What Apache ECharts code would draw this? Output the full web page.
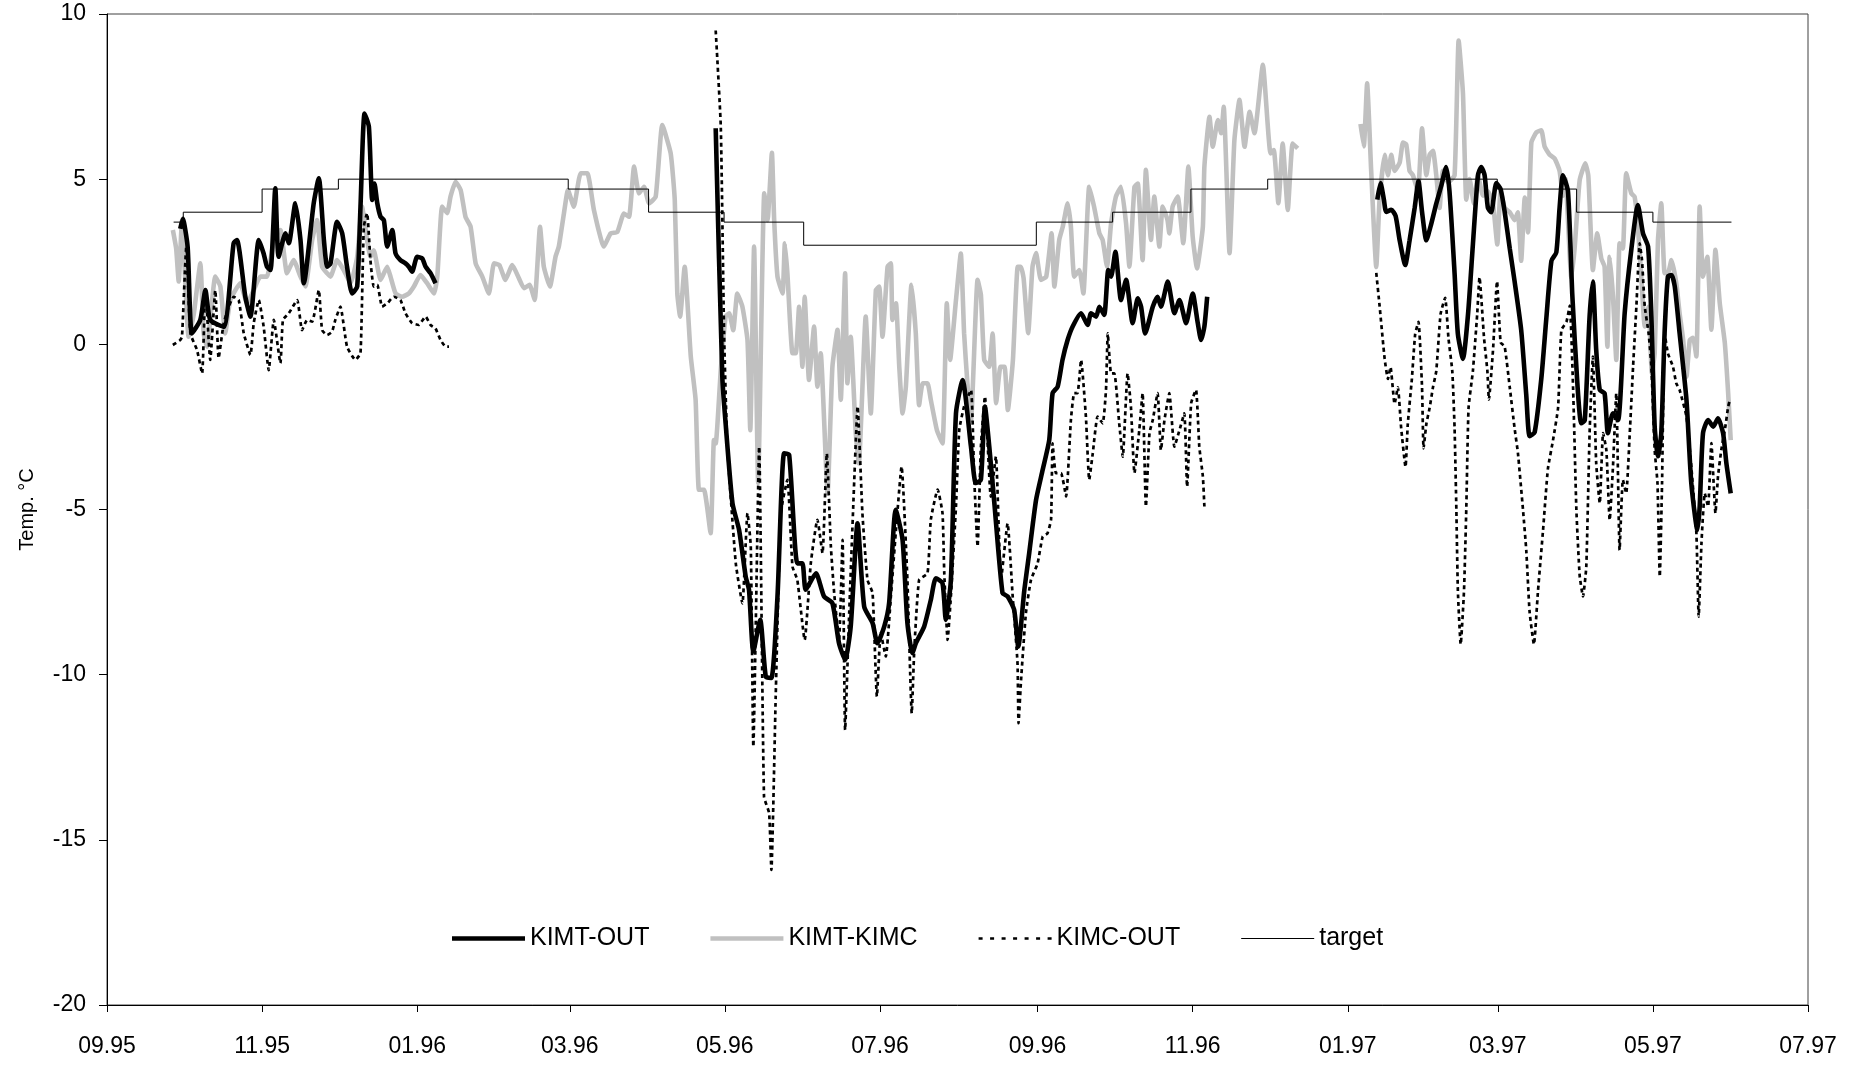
<!DOCTYPE html>
<html><head><meta charset="utf-8">
<script src="https://cdn.jsdelivr.net/npm/echarts@6/dist/echarts.min.js"></script>
<style>html,body{margin:0;padding:0;background:#fff}#c{width:1861px;height:1065px}</style>
</head><body><div id="c"></div>
<script>
// x values are days since 1 Sep 1995
const xTickDays = [0, 61, 122, 182, 243, 304, 366, 427, 488, 547, 608, 669];
const xTickLabels = ['09.95','11.95','01.96','03.96','05.96','07.96','09.96','11.96','01.97','03.97','05.97','07.97'];
const legendNames = ['KIMT-OUT', 'KIMT-KIMC', 'KIMC-OUT', 'target'];

const kimtOut = [
[28.8,3.5],[29.8,3.8],[31.7,2.96],[33.4,0.33],[36.7,0.74],[38.7,1.64],[40.6,0.74],[45.9,0.53],[49.8,3.06],[51.1,3.16],
[54.4,1.44],[56.4,0.84],[59.7,3.16],[61.6,2.75],[62.9,2.35],[64.3,2.25],[66.2,4.72],[67.5,2.65],[70.2,3.36],[71.5,3.06],
[74.1,4.27],[76.1,3.16],[77.4,1.85],[81.3,4.27],[83.3,5.03],[85.3,3.16],[86.6,2.35],[87.9,2.45],[90.5,3.71],[92.5,3.36],
[94.4,2.35],[96.4,1.54],[98.4,1.75],[99.7,4.17],[101.3,6.99],[103,6.59],[104.3,4.37],[105.2,4.87],[106.3,4.27],[107.6,3.86],
[108.9,3.76],[110.2,2.96],[112.2,3.46],[113.5,2.75],[115.4,2.55],[117.4,2.45],[118.7,2.35],[120,2.2],[122,2.65],[124,2.6],
[125.3,2.35],[127.3,2.15],[129.2,1.85],
[184,null],
[239.4,6.54],[242.0,-0.98],[243.3,-2.39],[246.0,-4.81],[248.6,-5.62],[251.2,-7.03],[252.5,-7.43],[254.2,-9.3],[256.9,-8.34],[259.1,-10.06],
[261.3,-10.1],[263.7,-7.63],[266.3,-3.3],[268.3,-3.35],[271.5,-6.63],[273.5,-6.63],[274.8,-7.43],[278.8,-6.93],[282.0,-7.63],[285.3,-7.84],
[287.9,-9.05],[290.3,-9.55],[292.5,-8.54],[295.2,-5.42],[297.8,-7.94],[301.1,-8.44],[303.0,-9.05],[305.7,-8.54],[307.6,-7.84],[310.2,-5.01],
[312.9,-5.92],[314.8,-8.44],[316.8,-9.35],[318.1,-9.05],[321.4,-8.54],[324.0,-7.74],[326.0,-7.08],[328.6,-7.23],[329.9,-8.34],[331.9,-7.13],
[333.9,-2.09],[336.5,-1.08],[339.8,-3.1],[341.7,-4.2],[343.7,-4.1],[345.3,-1.88],[347.0,-3.1],[349.0,-4.81],[352.2,-7.53],[354.2,-7.63],
[356.8,-8.04],[358.4,-9.15],[360.8,-7.43],[362.7,-6.32],[365.4,-4.71],[368.0,-3.8],[370.6,-2.89],[371.9,-1.48],[373.9,-1.28],[375.8,-0.47],
[377.8,0.13],[379.8,0.54],[383.1,0.94],[385.7,0.59],[387.0,0.94],[389.0,0.84],[390.3,1.14],[392.2,0.89],[393.8,2.25],[394.9,2.05],
[396.6,2.8],[398.8,1.34],[400.8,1.95],[403.4,0.64],[405.4,1.39],[406.7,1.14],[408.3,0.33],[411.3,1.14],[413.2,1.44],[414.5,1.14],
[417.2,1.9],[419.8,0.94],[421.8,1.34],[424.4,0.64],[427.0,1.54],[429.0,0.64],[430.3,0.13],[431.6,0.54],[432.7,1.44],
[466,null],
[499.6,4.38],[500.9,4.88],[502.2,4.38],[503.1,4.01],[505.1,4.07],[506.8,3.89],[508.4,3.15],[510.6,2.4],[512.3,3.15],[514.3,4.13],
[515.8,4.94],[517.2,4.01],[518.9,3.15],[520.8,3.64],[522.8,4.26],[524.8,4.81],[526.7,5.37],[528.0,4.63],[530.0,2.15],[531.3,0.31],
[533.3,-0.44],[535.3,0.92],[537.2,3.02],[539.2,5.12],[540.5,5.37],[541.8,5.12],[543.1,4.13],[544.4,4.0],[546.4,4.88],[548.1,4.7],
[549.7,4.01],[551.7,2.9],[553.6,1.91],[556.2,0.43],[558.2,-1.54],[559.5,-2.78],[561.5,-2.66],[564.1,-1.05],[566.1,0.8],[568.1,2.53],
[570.0,2.78],[571.3,4.13],[572.6,5.12],[574.6,4.63],[576.3,1.5],[578.3,-1.2],[579.8,-2.39],[581.2,-2.3],[583.1,0.84],[584.4,1.9],
[585.7,-0.17],[587.1,-1.38],[589.0,-1.48],[590.3,-2.69],[592.3,-2.09],[594.3,-2.29],[596.9,0.94],[599.5,2.86],[602.1,4.22],[604.1,3.36],
[606.1,2.96],[607.4,0.84],[608.7,-2.49],[610.0,-3.39],[611.3,-2.69],[612.6,0.34],[613.9,2.05],[615.3,2.1],[616.6,1.75],[618.5,0.34],
[621.2,-1.68],[623.1,-4.2],[625.5,-5.62],[626.4,-4.91],[627.7,-2.69],[629.7,-2.29],[631.7,-2.49],[633.6,-2.24],[635.6,-2.69],[636.9,-3.6],
[638.6,-4.51]
];

const kimtKimc = [
[25.9,3.46],[27.2,2.9],[28.2,1.9],[29.5,3.76],[30.8,1.9],[32.1,0.23],[34.1,0.9],[36.7,2.45],[38,0.33],[39.3,-0.07],
[42.6,2.05],[44.6,1.75],[46.5,0.33],[48.5,1.34],[52.4,1.85],[55.1,1.24],[57.7,1.64],[60.3,2.05],[62.9,2.05],[64.3,2.55],
[66.2,3.36],[68.2,3.46],[70.8,2.15],[73.4,2.55],[76.1,2.05],[78,1.75],[80.7,3.16],[82.6,3.76],[84.6,2.35],[86.6,2.15],
[87.9,2.05],[90.5,2.55],[93.1,2.25],[95.8,1.85],[98.4,2.65],[100.3,4.17],[102.3,3.16],[103.6,2.65],[104.9,2.85],[107.6,1.95],
[110.2,2.35],[111.5,2.05],[113.5,1.54],[116.1,1.44],[118.7,1.54],[120.7,1.75],[123.3,2.1],[125.9,1.85],[128.6,1.54],[129.9,2.05],
[131.8,4.17],[133.8,3.97],[135.1,4.47],[137.1,4.92],[139.1,4.67],[141,3.86],[143,3.56],[145,2.45],[147.6,2.05],[150.2,1.54],
[152.2,2.45],[154.3,2.4],[156.7,1.95],[159.4,2.4],[162,2.0],[164,1.7],[166.2,1.8],[168.2,1.34],[170.3,3.56],[171.8,2.35],
[174.2,1.75],[176.4,2.65],[177.7,2.96],[179.7,3.96],[181.3,4.67],[183.6,4.17],[186.3,5.18],[188.9,5.18],[191.5,4.07],[195.4,2.96],
[198.1,3.36],[200.7,3.4],[203.3,3.96],[205.3,3.86],[207.3,5.38],[209.2,4.57],[211.2,4.77],[213.2,4.27],[215.8,4.47],[218.4,6.64],
[221.7,5.78],[223.3,4.37],[224.3,1.54],[225.4,0.84],[227.2,2.35],[229.6,-0.37],[231.5,-1.68],[232.8,-4.4],[234.8,-4.4],[237.4,-5.72],
[238.7,-2.9],[239.4,-3.0],[241.4,-0.78],[243.3,0.84],[244.7,0.94],[246.3,0.43],[247.9,1.54],[249.9,1.14],[251.9,0.13],[253,-2.6],
[254.5,2.96],[256.1,-4.2],[258.5,4.57],[259.8,3.76],[261.5,5.8],[262.4,3.76],[263.7,2.05],[265.7,1.54],[266.6,3.06],[267.6,2.15],
[269.6,-0.27],[270.9,-0.27],[272.2,1.14],[273.5,-0.68],[274.4,1.44],[276.1,-1.08],[278.1,0.54],[279.4,-1.28],[280.7,-0.27],[283.4,-4.51],
[285.3,-0.68],[287.3,0.44],[288.6,-1.68],[290.3,2.15],[291.2,-1.18],[292.5,0.23],[294.5,-2.7],[295.7,-3.6],[298.4,0.84],[300.4,-2.09],
[302.4,1.64],[303.7,1.75],[305,0.23],[307,2.35],[308.3,2.45],[308.9,0.74],[310.3,1.24],[311.6,-0.68],[312.9,-2.09],[314.2,-1.28],
[316.4,1.8],[318.1,0.33],[319.4,-1.84],[320.8,-1.18],[322.7,-1.18],[324,-1.68],[326.4,-2.6],[328.6,-3.0],[330.3,1.24],[331.6,-0.47],
[333.9,1.34],[335.8,2.75],[337.1,0.33],[338.4,-1.18],[339.8,-2.3],[342.4,1.95],[343.7,1.5],[345,-0.47],[347,-0.68],[348.3,0.33],
[349.7,-1.78],[351.4,-0.68],[353,-0.68],[354.3,-1.99],[356.3,-0.47],[358.2,2.35],[359.4,2.35],[360.5,2.0],[362.3,0.34],[364,2.35],
[365.4,2.76],[367.3,1.95],[369.4,2.05],[371.5,3.36],[372.6,1.75],[374.5,3.16],[375.9,3.56],[377.8,4.27],[379.1,3.56],[380.4,2.05],
[382.4,2.25],[384,1.54],[386.3,4.77],[388.2,4.17],[390.3,3.36],[391.6,3.16],[393.3,2.35],[394.9,3.66],[396.8,4.47],[398.8,4.77],
[400.8,3.66],[402.1,2.35],[404.1,4.77],[405.4,4.87],[407.3,2.55],[408.6,5.28],[410.6,3.16],[411.9,4.47],[413.9,2.96],[415.2,4.17],
[417.1,3.76],[417.8,3.36],[419.1,4.17],[421.1,4.47],[423.3,3.06],[425.3,5.38],[427,3.26],[428.7,2.3],[431,3.56],[431.6,5.38],
[433.6,6.89],[434.9,5.98],[436.9,6.79],[438.2,6.39],[439.2,7.19],[441.5,2.76],[443.4,6.18],[445.4,7.4],[447.4,5.98],[449.4,7.04],
[451.3,6.39],[454.6,8.46],[457.6,5.78],[458.9,5.88],[460.7,4.27],[462.4,6.08],[464.4,4.07],[466.3,6.08],[468.3,5.93],
[480,null],
[493.0,6.67],[494.3,5.99],[495.6,7.9],[497.2,5.25],[499.2,2.34],[500.5,4.38],[502.5,5.74],[503.8,5.12],[505.1,5.74],[506.4,5.25],
[508.4,5.5],[509.7,6.11],[511,6.05],[512.3,5.25],[513.6,5.12],[515.6,4.63],[517.2,6.54],[518.9,5.12],[520.2,5.74],[521.5,5.86],
[522.8,5.12],[524.1,4.13],[525.4,5.25],[527.4,4.9],[530,5.12],[531.6,9.2],[533.3,7.59],[534.6,4.38],[535.9,5.0],[537.6,4.26],
[539.2,5.12],[541.2,4.5],[543.1,4.63],[545.1,4.26],[546.8,3.02],[548.1,4.63],[549.7,4.13],[551.7,4.0],[553.6,3.76],[554.9,4.0],
[556.2,2.53],[557.6,4.44],[558.9,3.39],[560.2,6.11],[562.2,6.42],[564.1,6.48],[565.4,5.99],[567.4,5.74],[569.4,5.62],[571.3,5.25],
[572.6,4.5],[573.6,5.0],[575.9,2.03],[577.2,2.9],[579.2,4.97],[581.4,5.48],[582.6,5.1],[584.4,2.25],[586.1,3.36],[587.7,2.6],
[589,2.35],[590.1,-0.07],[591,2.65],[592.3,1.44],[593.6,-0.47],[594.9,3.06],[596.2,2.9],[597.5,5.18],[599.5,4.57],[600.8,4.47],
[602.1,3.56],[603.5,1.95],[604.8,0.54],[606.3,1.14],[607.6,-0.88],[608.7,-0.27],[610,3.16],[611.3,4.27],[612.6,2.15],[613.9,2.15],
[615.3,2.55],[617.2,1.85],[618.5,0.94],[619.9,0.13],[621.2,-0.98],[622.5,0.13],[623.8,0.2],[625.1,-0.37],[626.4,4.17],[627.7,2.05],
[629.4,2.65],[631,0.44],[632.6,2.86],[634.3,1.24],[636.3,0.03],[637.6,-1.48],[638.6,-2.9]
];

const kimcOut = [
[25.9,-0.02],[28.8,0.13],[29.5,0.23],[31.2,2.96],[32.8,0.33],[35.4,-0.17],[37.4,-0.88],[38.7,1.64],[40.6,-0.47],[42.6,1.64],
[43.9,-0.42],[45.9,0.64],[47.9,1.14],[49.8,1.44],[51.8,1.34],[53.8,0.33],[56.4,-0.32],[57.7,0.64],[59.7,1.34],[61.6,0.54],
[63.6,-0.78],[65.6,0.74],[68.2,-0.57],[69.2,0.74],[71.5,0.94],[74.8,1.34],[76.7,0.43],[78.7,0.74],[80.7,0.69],[83.3,1.64],
[84.6,0.43],[86.6,0.28],[88.5,0.38],[89.8,0.74],[91.8,1.14],[94.4,-0.07],[97.7,-0.47],[99.7,-0.27],[101,3.56],[102.3,3.97],
[103.6,2.55],[104.9,1.75],[106.3,1.8],[108.2,1.14],[110.2,1.24],[112.8,1.44],[115.4,1.34],[117.4,0.94],[120,0.64],[122.6,0.59],
[125.3,0.84],[127.3,0.58],[129.2,0.48],[131.2,0.13],[133.2,-0.07],[134.5,-0.07],
[185,null],
[239.4,9.5],[241.4,6.59],[242.7,0.33],[244.0,-3.1],[247.3,-6.63],[249.9,-7.84],[251.9,-5.11],[253.2,-6.12],[254.2,-12.18],[256.5,-3.1],
[258.4,-13.69],[260.4,-14.19],[261.3,-15.91],[263.0,-10.66],[265.0,-5.11],[267.6,-4.1],[269.6,-6.73],[271.5,-7.13],[274.4,-8.95],[276.8,-6.63],
[279.4,-5.31],[281.4,-6.32],[283.1,-3.3],[284.7,-6.12],[286.0,-7.53],[287.9,-8.95],[289.3,-5.92],[290.3,-11.67],[291.9,-8.14],[293.9,-4.1],
[295.2,-1.88],[297.1,-5.11],[299.1,-7.13],[301.1,-7.53],[302.8,-10.66],[304.3,-8.74],[306.3,-9.45],[308.3,-7.63],[310.2,-5.72],[312.5,-3.7],
[314.8,-7.13],[316.5,-11.17],[317.5,-9.25],[319.4,-7.13],[322.7,-6.93],[324.0,-5.31],[326.7,-4.4],[328.6,-5.11],[329.3,-6.93],[330.6,-8.95],
[331.9,-7.63],[333.9,-4.91],[335.2,-2.59],[337.1,-1.88],[339.8,-1.38],[341.1,-4.1],[342.4,-6.12],[343.7,-3.1],[345.3,-1.58],[347.6,-4.61],
[349.6,-3.4],[351.6,-7.13],[354.2,-5.42],[356.2,-7.63],[358.1,-9.65],[358.5,-11.47],[359.5,-10.16],[361.4,-8.14],[363.4,-7.13],[366.0,-6.63],
[368.0,-5.82],[369.9,-5.72],[371.3,-5.3],[371.9,-3.0],[373.2,-3.9],[375.2,-3.9],[377.2,-4.6],[379.1,-2.29],[380.4,-1.48],[381.7,-1.48],
[383.1,-0.47],[385.0,-2.19],[386.3,-4.1],[387.7,-3.3],[389.6,-2.19],[391.6,-2.39],[392.9,-1.38],[393.6,0.33],[394.9,-0.88],[396.2,-0.88],
[398.1,-2.39],[399.5,-3.4],[401.4,-0.88],[402.7,-1.88],[404.1,-3.9],[406.0,-2.59],[407.3,-1.48],[408.6,-4.91],[410.0,-2.69],[411.3,-2.29],
[413.2,-1.48],[414.5,-3.2],[415.9,-2.29],[417.8,-1.48],[419.8,-3.1],[421.8,-2.6],[423.7,-2.09],[424.8,-4.31],[426.4,-1.78],[428.3,-1.38],
[429.6,-3.1],[431.0,-4.0],[431.6,-4.91],
[465,null],
[499.2,2.16],[500.5,1.17],[502.5,-0.44],[503.8,-1.05],[504.8,-0.69],[506.4,-1.8],[507.7,-1.3],[509.0,-2.54],[510.7,-3.71],[511.6,-2.41],
[513.2,-1.05],[514.5,0.31],[515.8,0.68],[517.2,-1.3],[517.8,-3.15],[518.9,-2.41],[520.2,-1.92],[521.5,-1.3],[522.8,-0.81],[524.5,0.92],
[526.3,1.41],[527.6,0.18],[529.1,-0.81],[530.0,-2.54],[530.7,-5.0],[531.3,-7.47],[532.4,-9.08],[533.7,-7.47],[534.6,-5.0],[535.5,-1.92],
[537.2,-0.81],[538.9,0.92],[539.8,2.03],[541.6,0.18],[542.9,-0.81],[543.5,-1.67],[545.1,-0.19],[546.7,1.91],[548.1,0.06],[549.7,-0.07],
[551.7,-1.3],[553.6,-2.54],[554.9,-3.28],[556.9,-5.0],[558.2,-6.24],[559.5,-8.09],[561.2,-9.08],[562.8,-7.47],[564.8,-5.62],[566.7,-3.77],
[568.7,-2.91],[570.7,-1.92],[572.0,0.43],[574.0,0.68],[575.3,1.17],[576.6,-1.3],[577.9,-5.0],[579.2,-7.0],[580.5,-7.63],[581.8,-6.73],
[583.1,-2.69],[584.4,-0.37],[585.7,-3.6],[587.1,-4.81],[588.4,-2.69],[589.7,-3.2],[591.0,-5.32],[592.3,-3.7],[593.6,-1.48],[594.9,-6.23],
[596.2,-4.1],[597.5,-4.51],[598.9,-2.69],[600.2,-0.68],[601.5,1.14],[602.8,3.06],[603.7,2.56],[604.8,1.14],[606.3,0.34],[607.4,-0.68],
[608.7,-3.2],[609.8,-4.2],[610.7,-7.03],[611.6,-4.2],[612.6,0.34],[613.9,-0.27],[615.9,-0.68],[617.2,-1.18],[618.5,-1.38],[621.2,-2.19],
[623.1,-3.7],[625.1,-5.72],[626.0,-8.24],[627.1,-6.02],[628.4,-4.51],[629.7,-4.91],[631.0,-2.99],[632.6,-5.11],[633.6,-4.0],[634.9,-3.2],
[636.5,-2.49],[637.6,-1.89],[638.3,-1.68]
];

// target: level starting at each day (held until the next change)
const targetDays = [26.2, 30, 61, 91, 181.4, 213, 242.7, 274, 365.5, 395.5, 426.3, 456.5, 546.8, 578, 608, 638.9];
const targetVals = [3.7, 4.0, 4.7, 5.0, 4.7, 4.0, 3.7, 3.0, 3.7, 4.0, 4.7, 5.0, 4.7, 4.0, 3.7, 3.7];

const FONT = "'Liberation Sans', Arial, sans-serif";
function toData(pts) { return pts.map(p => [p[0], p[1] === null ? '-' : p[1]]); }

// legend glyphs (line samples)
function barPath(h) { return 'path://M0,0H73V' + h + 'H0Z'; }
function dotPath() {
  let s = 'path://';
  for (let i = 0; i < 7; i++) { const x = i * 11.5; s += 'M' + x + ',0h4v2.6h-4Z'; }
  return s;
}

const chart = echarts.init(document.getElementById('c'), null, { renderer: 'canvas' });
chart.setOption({
  animation: false,
  backgroundColor: '#ffffff',
  textStyle: { fontFamily: FONT },
  grid: { left: 107, right: 53, top: 14, bottom: 60, show: true, borderColor: '#404040', borderWidth: 1, backgroundColor: 'transparent' },
  legend: {
    left: 447, top: 921, itemWidth: 73, itemHeight: 14, itemGap: 61,
    data: [
      { name: legendNames[0], icon: barPath(4.5), itemStyle: { color: '#000000' } },
      { name: legendNames[1], icon: barPath(4.5), itemStyle: { color: '#c0c0c0' } },
      { name: legendNames[2], icon: dotPath(), itemStyle: { color: '#000000' } },
      { name: legendNames[3], icon: barPath(1.2), itemStyle: { color: '#000000' } }
    ],
    textStyle: { fontSize: 25, color: '#000', fontFamily: FONT }
  },
  xAxis: {
    type: 'value', min: 0, max: 669,
    splitLine: { show: false },
    axisLine: { show: true, onZero: false, lineStyle: { color: '#000', width: 1 } },
    axisTick: { show: true, length: 7, lineStyle: { color: '#000' }, customValues: xTickDays },
    axisLabel: {
      customValues: xTickDays, fontSize: 23, color: '#000', margin: 30, fontFamily: FONT,
      formatter: function (v) { const i = xTickDays.indexOf(v); return i >= 0 ? xTickLabels[i] : ''; }
    }
  },
  yAxis: {
    type: 'value', min: -20, max: 10, interval: 5,
    name: 'Temp. °C', nameLocation: 'middle', nameRotate: 90, nameGap: 70,
    nameTextStyle: { fontSize: 20, color: '#000', fontFamily: FONT },
    splitLine: { show: false },
    axisLine: { show: true, onZero: false, lineStyle: { color: '#000', width: 1 } },
    axisTick: { show: true, length: 8, lineStyle: { color: '#000' } },
    axisLabel: { fontSize: 23, color: '#000', margin: 21, fontFamily: FONT }
  },
  series: [
    { name: 'KIMT-OUT', type: 'line', data: toData(kimtOut), symbol: 'none', showSymbol: false, smooth: 0.2, silent: true, z: 3,
      lineStyle: { color: '#000000', width: 4.6 }, itemStyle: { color: '#000000' } },
    { name: 'KIMT-KIMC', type: 'line', data: toData(kimtKimc), symbol: 'none', showSymbol: false, smooth: 0.15, silent: true, z: 2,
      lineStyle: { color: '#c0c0c0', width: 4.6 }, itemStyle: { color: '#c0c0c0' } },
    { name: 'KIMC-OUT', type: 'line', data: toData(kimcOut), symbol: 'none', showSymbol: false, smooth: 0.15, silent: true, z: 4,
      lineStyle: { color: '#000000', width: 2.7, type: [4, 3.5] }, itemStyle: { color: '#000000' } },
    { name: 'target', type: 'line', data: targetDays.map((d, i) => [d, targetVals[i]]), step: 'end', symbol: 'none', showSymbol: false, silent: true, z: 5,
      lineStyle: { color: '#000000', width: 1 }, itemStyle: { color: '#000000' } }
  ]
});
</script>
</body></html>
